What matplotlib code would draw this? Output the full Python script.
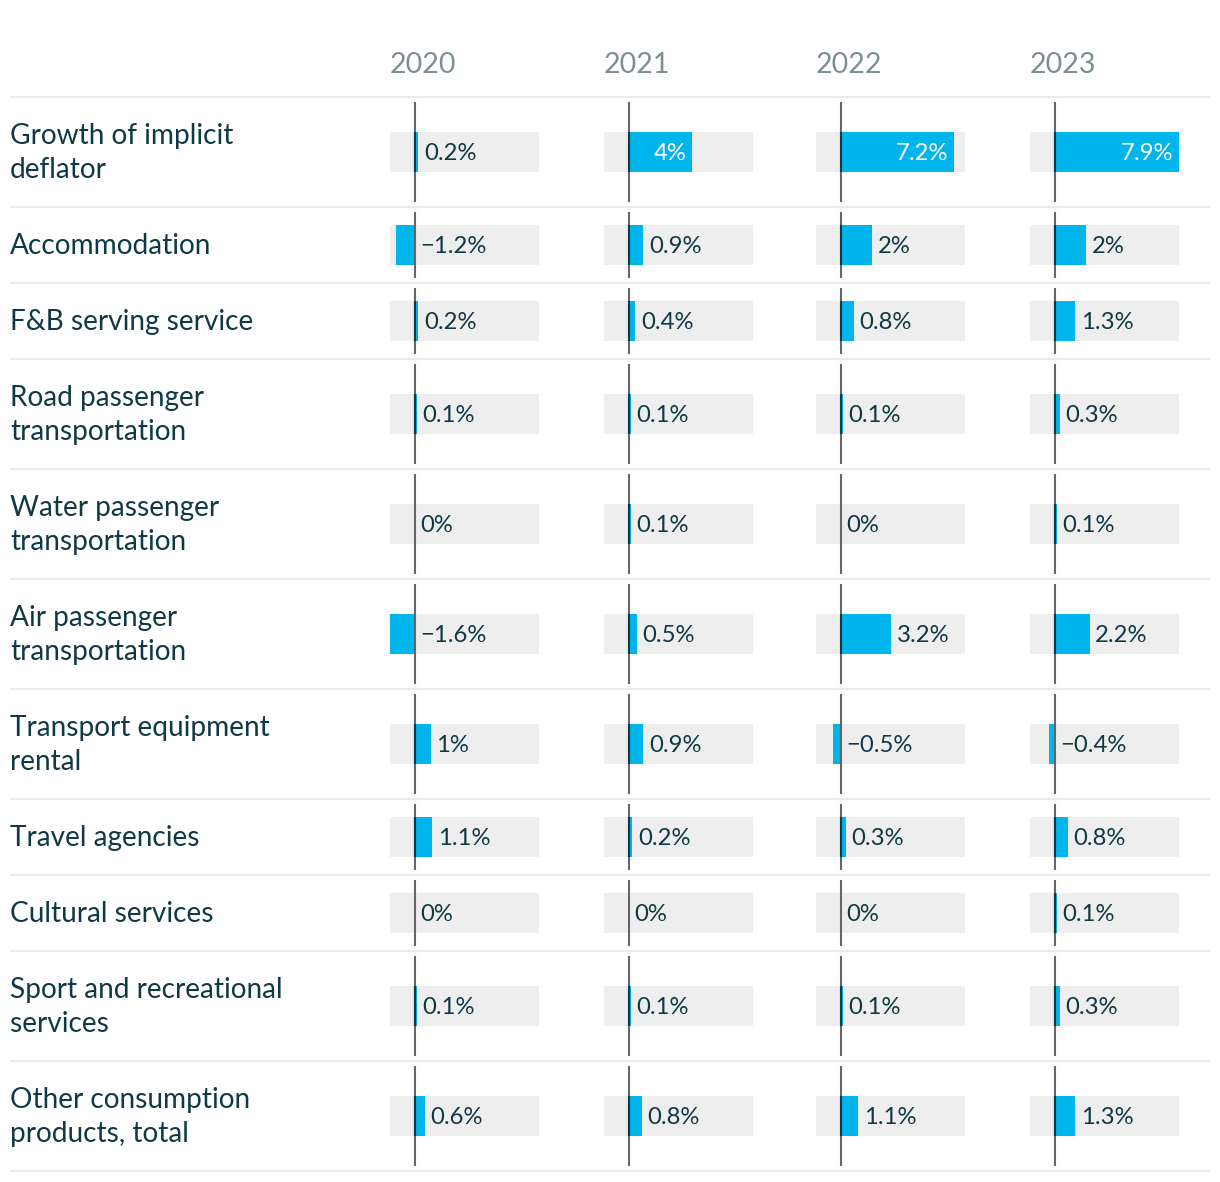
import numpy as np
import matplotlib.pyplot as plt

plt.rcParams['font.family'] = ['Lato', 'DejaVu Sans']

years = ['2020', '2021', '2022', '2023']
categories = [
    'Growth of implicit\ndeflator',
    'Accommodation',
    'F&B serving service',
    'Road passenger\ntransportation',
    'Water passenger\ntransportation',
    'Air passenger\ntransportation',
    'Transport equipment\nrental',
    'Travel agencies',
    'Cultural services',
    'Sport and recreational\nservices',
    'Other consumption\nproducts, total',
]
v2020 = [0.2, -1.2, 0.2, 0.1, 0.0, -1.6, 1.0, 1.1, 0.0, 0.1, 0.6]
v2021 = [4.0, 0.9, 0.4, 0.1, 0.1, 0.5, 0.9, 0.2, 0.0, 0.1, 0.8]
v2022 = [7.2, 2.0, 0.8, 0.1, 0.0, 3.2, -0.5, 0.3, 0.0, 0.1, 1.1]
v2023 = [7.9, 2.0, 1.3, 0.3, 0.1, 2.2, -0.4, 0.8, 0.1, 0.3, 1.3]
values = [v2020, v2021, v2022, v2023]

W, H = 1220, 1182
BLUE = '#00b5ec'
TXT = '#0f3a45'
BAND = '#eeeeee'
xmin, xmax = -1.6, 7.9

# row layout in pixels
heights = [110 if '\n' in c else 76 for c in categories]
tops = 97 + np.concatenate([[0], np.cumsum(heights)[:-1]])
bottoms = tops + np.array(heights)
centers = (tops + bottoms) / 2

fig = plt.figure(figsize=(W / 100, H / 100), dpi=100)
bg = fig.add_axes([0, 0, 1, 1])
bg.set_xlim(0, W)
bg.set_ylim(H, 0)
bg.axis('off')
bg.hlines(np.concatenate([[97], bottoms]), 10, 1210, color='#ebebeb', lw=1.5)
for c, y in zip(categories, centers):
    bg.text(10, y + 1, c, ha='left', va='center', fontsize=20.2, color=TXT,
            linespacing=1.42)

col_left = [390, 604, 816, 1030]
col_w = 149

def fmt(v):
    s = ('%.1f' % abs(v)).rstrip('0').rstrip('.')
    return ('\u2212' if v < 0 else '') + s + '%'

for yr, vals, x0 in zip(years, values, col_left):
    ax = fig.add_axes([x0 / W, 0, col_w / W, 1])
    ax.set_xlim(xmin, xmax)
    ax.set_ylim(H, 0)
    ax.axis('off')
    ax.text(xmin, 65, yr, ha='left', va='center', fontsize=20.5,
            color='#7d8f93')
    ax.barh(centers, xmax - xmin, left=xmin, height=40, color=BAND, lw=0)
    ax.barh(centers, vals, height=40, color=BLUE, lw=0)
    ax.vlines(np.zeros(len(tops)), tops + 5, bottoms - 5, color='#666666',
              lw=1.5, clip_on=False)
    for y, v in zip(centers, vals):
        if v > 0:
            ax.vlines(0, y - 20, y + 20, color='#0f3a45', lw=1.5)
        if v >= 3.5:
            ax.annotate(fmt(v), (v, y + 1.5), xytext=(-4, 0),
                        textcoords='offset points', ha='right', va='center',
                        fontsize=17.2, color='white')
        else:
            ax.annotate(fmt(v), (max(v, 0), y + 1.5), xytext=(4, 0),
                        textcoords='offset points', ha='left', va='center',
                        fontsize=17.2, color=TXT)

fig.savefig('out.png', dpi=100)
